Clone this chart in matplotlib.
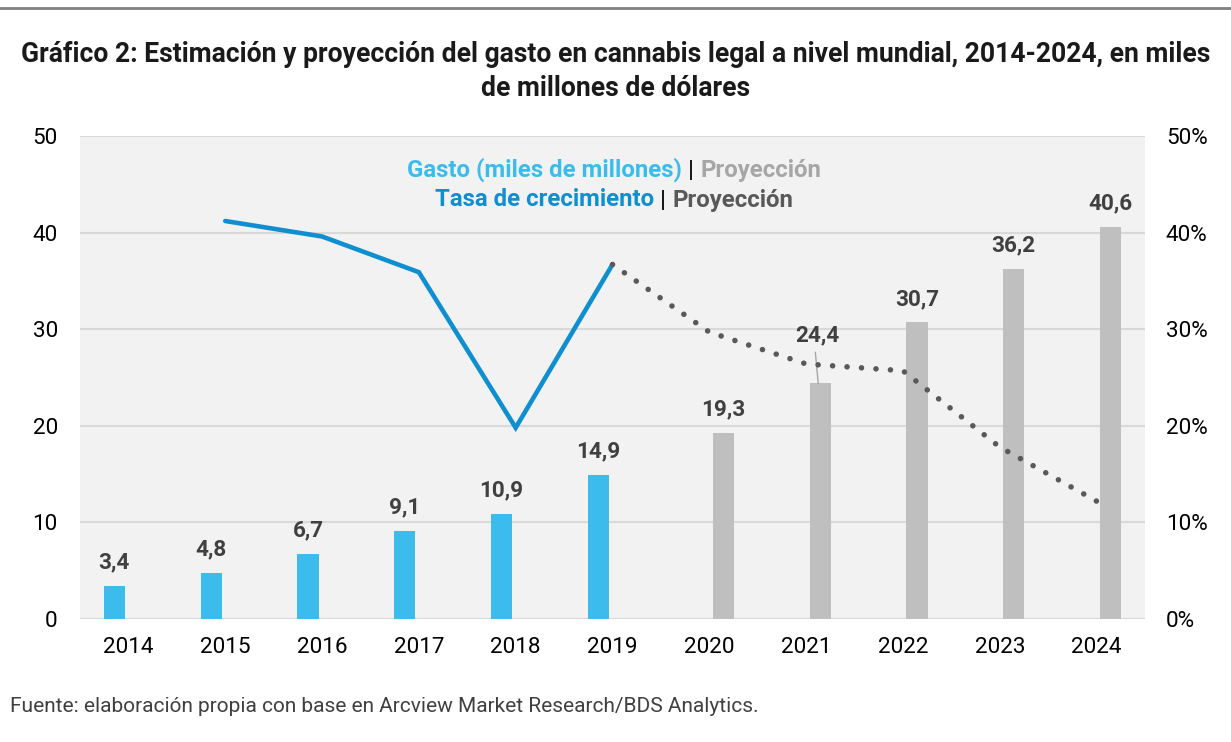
import numpy as np
import matplotlib
matplotlib.use("Agg")
import matplotlib.pyplot as plt
from matplotlib.lines import Line2D

plt.rcParams['font.family'] = ['Roboto', 'DejaVu Sans']

# datos
years = ["2014", "2015", "2016", "2017", "2018", "2019",
         "2020", "2021", "2022", "2023", "2024"]
gasto = [3.4, 4.8, 6.7, 9.1, 10.9, 14.9, 19.3, 24.4, 30.7, 36.2, 40.6]
n_est = 6   # 2014-2019 estimacion, despues proyeccion
# tasa de crecimiento (%), desde 2015
tasa = [41.2, 39.6, 35.9, 19.8, 36.7, 29.7, 26.4, 25.7, 17.8, 12.2]

c_bar = '#3bbced'
c_bar_proj = '#bfbfbf'
c_line = '#0f8fcf'
c_line_proj = '#595959'
c_lab = '#404040'

W, H = 1231, 742
fig = plt.figure(figsize=(W / 100, H / 100), dpi=100)
ax = fig.add_axes([80 / W, 1 - 619 / H, (1145 - 80) / W, (619 - 136) / H])
ax.set_facecolor('#f2f2f2')

x = np.arange(len(years))
off = 0.145
bw = 0.22
xb = np.where(x < n_est, x - off, x + off)
colors = [c_bar if i < n_est else c_bar_proj for i in range(len(years))]
ax.bar(xb, gasto, width=bw, color=colors, zorder=2)

for i, v in enumerate(gasto):
    lab = ('%.1f' % v).replace('.', ',')
    if years[i] == "2021":
        # etiqueta desplazada con linea guia
        ax.text(xb[i] - 0.03, 28.2, lab, ha='center', va='bottom', fontsize=16.2,
                fontweight='bold', color=c_lab)
        ax.plot([xb[i] - 0.05, xb[i] - 0.02], [27.6, v], color='#a6a6a6', lw=1, zorder=3)
    else:
        ax.annotate(lab, (xb[i], v), xytext=(0, 9), textcoords='offset points',
                    ha='center', va='bottom', fontsize=16.2, fontweight='bold', color=c_lab)

ax.set_xlim(-0.5, len(years) - 0.5)
ax.set_ylim(0, 50)
ax.set_yticks(range(0, 51, 10))
ax.set_xticks(x)
ax.set_xticklabels(years)
ax.grid(axis='y', color='#d9d9d9', lw=1.5)
ax.set_axisbelow(True)
for s in ax.spines.values():
    s.set_visible(False)
ax.tick_params(axis='y', length=0, pad=16, labelsize=16.2)
ax.tick_params(axis='x', length=0, pad=13, labelsize=16.2)

# eje secundario: tasa de crecimiento
ax2 = ax.twinx()
ax2.set_ylim(0, 50)
ax2.set_yticks(range(0, 51, 10))
ax2.set_yticklabels(['%d%%' % t for t in range(0, 51, 10)])
ax2.tick_params(axis='y', length=0, pad=15, labelsize=16.2)
for s in ax2.spines.values():
    s.set_visible(False)

xt = x[1:]
ax2.plot(xt[:n_est - 1], tasa[:n_est - 1], color=c_line, lw=3.3,
         solid_capstyle='round', solid_joinstyle='miter', zorder=4)
ax2.plot(xt[n_est - 2:], tasa[n_est - 2:], color=c_line_proj, lw=4,
         linestyle=(0, (0.01, 2.6)), dash_capstyle='round', zorder=4)

# titulo
fig.text(0.5, 1 - 55 / H, "Gráfico 2: Estimación y proyección del gasto en cannabis legal a nivel mundial, 2014-2024, en miles",
         ha='center', va='center', fontsize=19.1, fontweight='bold', color='#1a1a1a')
fig.text(0.5, 1 - 89 / H, "de millones de dólares",
         ha='center', va='center', fontsize=19.1, fontweight='bold', color='#1a1a1a')

# linea superior
fig.add_artist(Line2D([0, 1], [1 - 8 / H, 1 - 8 / H], color='#808080', lw=2))


# leyenda de varios colores, centrada
def colored_line(y_px, parts, size):
    texts = []
    for s, c in parts:
        t = fig.text(0, 1 - y_px / H, s, color=c, fontsize=size, fontweight='bold',
                     va='center', ha='left')
        texts.append(t)
    r = fig.canvas.get_renderer()
    widths = [t.get_window_extent(r).width for t in texts]
    x0 = 614 - sum(widths) / 2
    for t, w in zip(texts, widths):
        t.set_x(x0 / W)
        x0 += w


colored_line(170, [("Gasto (miles de millones)", c_bar), (" | ", '#1a1a1a'),
                   ("Proyección", '#a6a6a6')], 17.3)
colored_line(200, [("Tasa de crecimiento", c_line), (" | ", '#1a1a1a'),
                   ("Proyección", c_line_proj)], 17.3)

fig.text(10 / W, 1 - 706 / H, "Fuente: elaboración propia con base en Arcview Market Research/BDS Analytics.",
         ha='left', va='center', fontsize=15, color=c_lab)

fig.savefig('out.png', dpi=100)
